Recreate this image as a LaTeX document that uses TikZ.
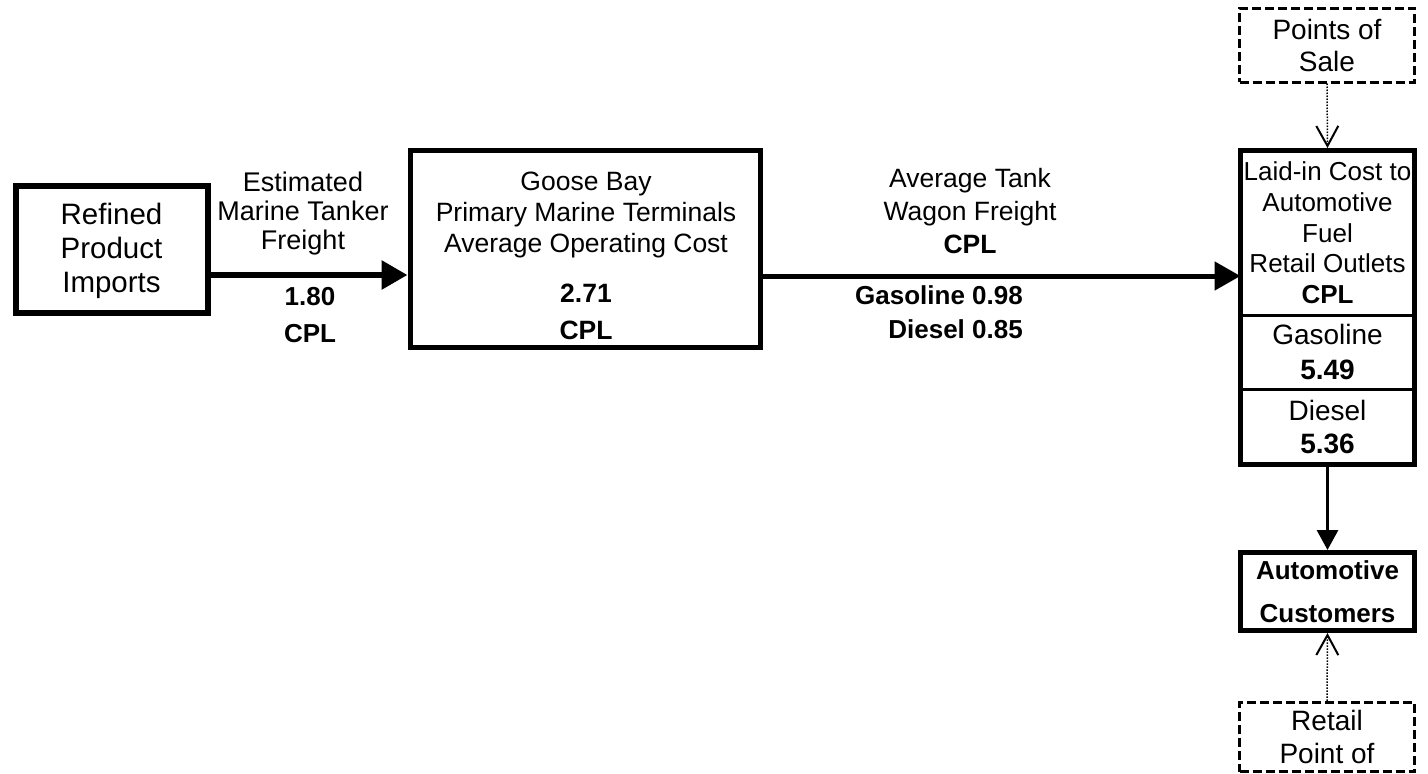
\documentclass[tikz,border=0pt]{standalone}
\usepackage{fontspec}
\setmainfont{Liberation Sans}
\usetikzlibrary{arrows.meta, positioning}

\newcommand{\fsz}[2]{\fontsize{#1}{#2}\selectfont}

\begin{document}
\begin{tikzpicture}[x=1pt, y=-1pt,
    box/.style={draw, line width=5pt, inner sep=0pt},
    dbox/.style={draw, line width=3pt, dash pattern=on 9pt off 4pt, minimum width=175pt, inner sep=0pt, align=center},
    part/.style={draw, line width=3pt, outer sep=0pt, minimum width=174pt, inner sep=0pt, align=center},
    txt/.style={align=center, inner sep=0pt},
    flow/.style={line width=5pt, -{Triangle[length=26pt, width=28pt]}},
    feed/.style={line width=1.5pt, dash pattern=on 1.5pt off 1.5pt, -{Straight Barb[length=20pt, width=22pt, line width=2pt]}}]
    \useasboundingbox (0,0) rectangle (1428,774);

    % Main chain
    \node[box, line width=6pt, minimum width=192pt, minimum height=127pt] (imports) at (111.5,249) {};
    \node[txt, font=\fsz{29.5}{34}] (importstxt) at (111.5,251) {Refined\\Product\\Imports};
    \node[box, minimum width=350pt, minimum height=197pt] (goose) at (585,249) {};
    \node[txt, font=\fsz{26.5}{31}] (goosetxt) at (586,255.5)
        {Goose Bay\\Primary Marine Terminals\\Average Operating Cost\\[19pt]\textbf{2.71}\\[6pt]\textbf{CPL}};

    % Retail outlet column
    \node[dbox, minimum height=74pt, font=\fsz{28}{32}] (pos) at (1327,45) {Points of\\Sale};
    \node[part, minimum height=164.5pt, font=\fsz{26}{30.75}] (outlet) at (1327.5,232.75)
        {Laid-in Cost to\\Automotive\\Fuel\\Retail Outlets\\\textbf{CPL}};
    \node[part, minimum height=74pt, below=0pt of outlet, font=\fsz{28}{35}] (gasret) {Gasoline\\\textbf{5.49}};
    \node[part, minimum height=75.5pt, below=0pt of gasret, font=\fsz{28}{33}] (dslret) {Diesel\\\textbf{5.36}};
    \draw[line width=5pt] (outlet.north west) rectangle (dslret.south east);
    \node[box, minimum width=174pt, minimum height=78pt, align=center, font=\bfseries\fsz{26}{43}] (cust) at (1327.5,591.5)
        {Automotive\\Customers};
    \node[dbox, minimum height=69.5pt, font=\fsz{28}{33}] (rpo) at (1327,737) {Retail\\Point of};

    % Freight labels
    \node[txt, font=\fsz{27}{29}] (freight1) at (303,214) {Estimated\\Marine Tanker\\Freight};
    \node[txt, font=\bfseries\fsz{26}{37}] (cost1) at (310,315) {1.80\\CPL};
    \node[txt, font=\fsz{26.5}{33}] (freight2) at (970,211) {Average Tank\\Wagon Freight\\\textbf{CPL}};
    \node[txt, align=right, anchor=east, font=\bfseries\fsz{26}{34}] (cost2) at (1023,312) {Gasoline 0.98\\Diesel 0.85};

    % Connectors
    \draw[flow, line width=6pt] ([yshift=-26pt]imports.east) -- ([yshift=-26pt]goose.west);
    \draw[flow] ([yshift=-27pt]goose.east) -- ([yshift=-27pt]goose.east -| outlet.west);
    \draw[line width=3pt, -{Triangle[length=20pt, width=21pt]}] (dslret.south) -- (cust.north);
    \draw[feed, shorten >=2.5pt] (pos.south) -- (outlet.north);
    \draw[feed] (rpo.north) -- (cust.south);
\end{tikzpicture}
\end{document}
